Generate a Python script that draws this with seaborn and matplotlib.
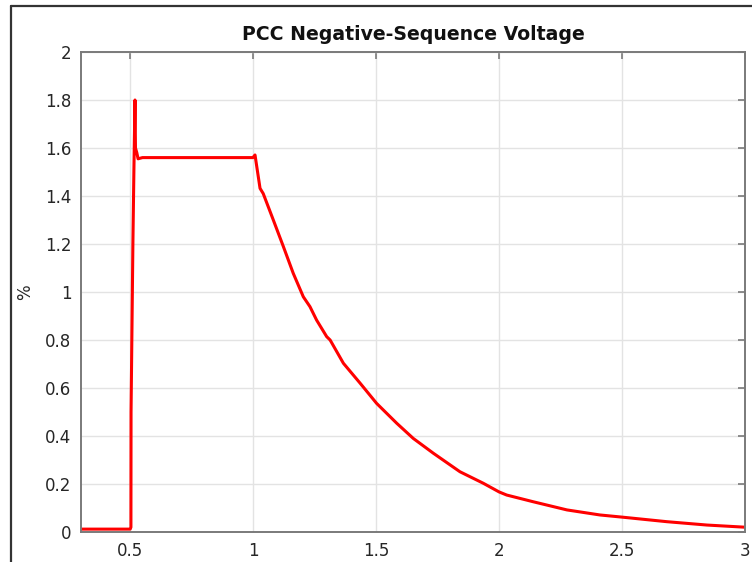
import seaborn as sns
import pandas as pd
import matplotlib.pyplot as plt
from matplotlib.lines import Line2D

# Time (s) and negative-sequence voltage (%)
time_s = [0.30, 0.35, 0.40, 0.45, 0.500, 0.503, 0.5035, 0.511, 0.515, 0.5195,
          0.5215, 0.527, 0.532, 0.55, 0.65, 0.75, 0.85, 0.95, 0.999, 1.0076,
          1.028, 1.041, 1.082, 1.123, 1.163, 1.204, 1.231, 1.258, 1.299, 1.313,
          1.367, 1.435, 1.502, 1.584, 1.651, 1.733, 1.841, 1.936, 2.0, 2.031,
          2.139, 2.276, 2.41, 2.5, 2.682, 2.845, 3.0]
voltage_pct = [0.012, 0.012, 0.012, 0.012, 0.012, 0.02, 0.5, 1.2, 1.5, 1.8,
               1.6, 1.58, 1.555, 1.56, 1.56, 1.56, 1.56, 1.56, 1.56, 1.571,
               1.432, 1.41, 1.30, 1.189, 1.078, 0.98, 0.939, 0.883, 0.814, 0.80,
               0.703, 0.62, 0.536, 0.453, 0.39, 0.328, 0.251, 0.203, 0.167, 0.154,
               0.126, 0.092, 0.071, 0.062, 0.043, 0.029, 0.02]

x_ticks = [0.5, 1, 1.5, 2, 2.5, 3]
x_labels = ['0.5', '1', '1.5', '2', '2.5', '3']
y_ticks = [0, 0.2, 0.4, 0.6, 0.8, 1, 1.2, 1.4, 1.6, 1.8, 2]
y_labels = ['0', '0.2', '0.4', '0.6', '0.8', '1', '1.2', '1.4', '1.6', '1.8', '2']

df = pd.DataFrame({'t': time_s, 'v': voltage_pct})

sns.set_style('white')
plt.rcParams['font.family'] = ['DejaVu Sans']

fig = plt.figure(figsize=(7.52, 5.62), dpi=100)
ax = fig.add_axes([81 / 752, 1 - 532 / 562, 664 / 752, 480 / 562])

sns.lineplot(data=df, x='t', y='v', color='#ff0000', linewidth=2.2, ax=ax)

ax.set_xlim(0.3, 3)
ax.set_ylim(0, 2)
ax.set_xticks(x_ticks)
ax.set_xticklabels(x_labels)
ax.set_yticks(y_ticks)
ax.set_yticklabels(y_labels)
ax.grid(True, color='#e3e3e3', linewidth=1.0)
ax.tick_params(direction='in', length=5, width=1.2, color='#7a7a7a',
               labelsize=12, labelcolor='#262626', top=True, right=True, pad=7)
for s in ax.spines.values():
    s.set_visible(True)
    s.set_color('#7a7a7a')
    s.set_linewidth(1.4)

ax.set_xlabel('')
ax.set_ylabel('%', fontsize=12, color='#262626', labelpad=8)
ax.set_title('PCC Negative-Sequence Voltage', fontsize=13.6, fontweight='bold',
             color='#111111', pad=9)

# outer frame of the screenshot
fig.add_artist(Line2D([11 / 752, 11 / 752], [0, 1 - 6 / 562], color='#333333', linewidth=1.6))
fig.add_artist(Line2D([11 / 752, 1], [1 - 6 / 562, 1 - 6 / 562], color='#333333', linewidth=1.6))

fig.savefig('out.png', dpi=100)
